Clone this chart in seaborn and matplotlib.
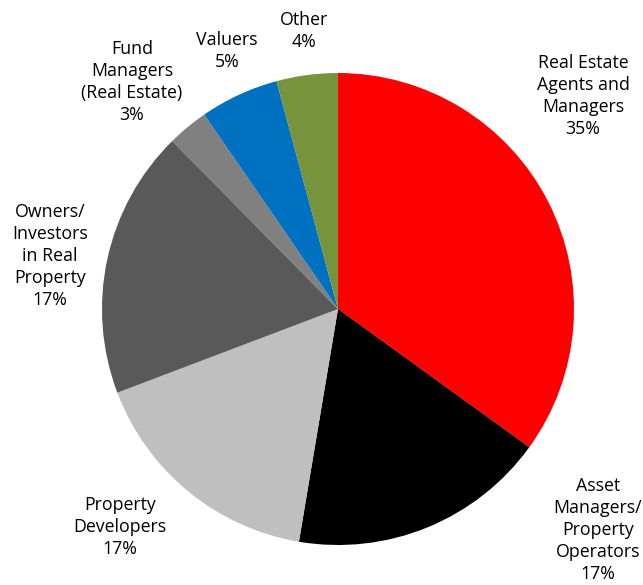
import matplotlib
matplotlib.use("Agg")
import matplotlib.pyplot as plt
import seaborn as sns

# Data (shares; labels show rounded percentages)
categories = ["Real Estate\nAgents and\nManagers", "Asset\nManagers/\nProperty\nOperators",
              "Property\nDevelopers", "Owners/\nInvestors\nin Real\nProperty",
              "Fund\nManagers\n(Real Estate)", "Valuers", "Other"]
shares = [35.0, 17.7, 16.6, 18.4, 2.8, 5.4, 4.2]
pct_labels = ["35%", "17%", "17%", "17%", "3%", "5%", "4%"]
colors = ["#FF0000", "#000000", "#BFBFBF", "#595959", "#808080", "#0070C0", "#77933C"]

# Layout (pixel positions of label centres)
W, H = 643, 585
CX, CY, R = 338, 309, 236
label_px = [(583, 96), (598, 530), (120, 527), (50, 256), (132, 82), (227, 51), (304, 31)]

sns.set_theme(style="white")
plt.rcParams["font.family"] = ["Open Sans", "DejaVu Sans"]

fig = plt.figure(figsize=(W / 100, H / 100), dpi=100)
ax = fig.add_axes([0, 0, 1, 1])
ax.pie(shares, colors=sns.color_palette(colors), startangle=90, counterclock=False,
       radius=1, center=(0, 0), wedgeprops=dict(linewidth=0))
ax.set_xlim(-CX / R, (W - CX) / R)
ax.set_ylim(-(H - CY) / R, CY / R)
ax.set_aspect("equal", adjustable="datalim")
ax.axis("off")

for cat, pct, (px, py) in zip(categories, pct_labels, label_px):
    ax.text((px - CX) / R, (CY - py) / R, f"{cat}\n{pct}", ha="center", va="center",
            fontsize=12.8, color="black", linespacing=1.3)

fig.savefig("out.png", dpi=100)
